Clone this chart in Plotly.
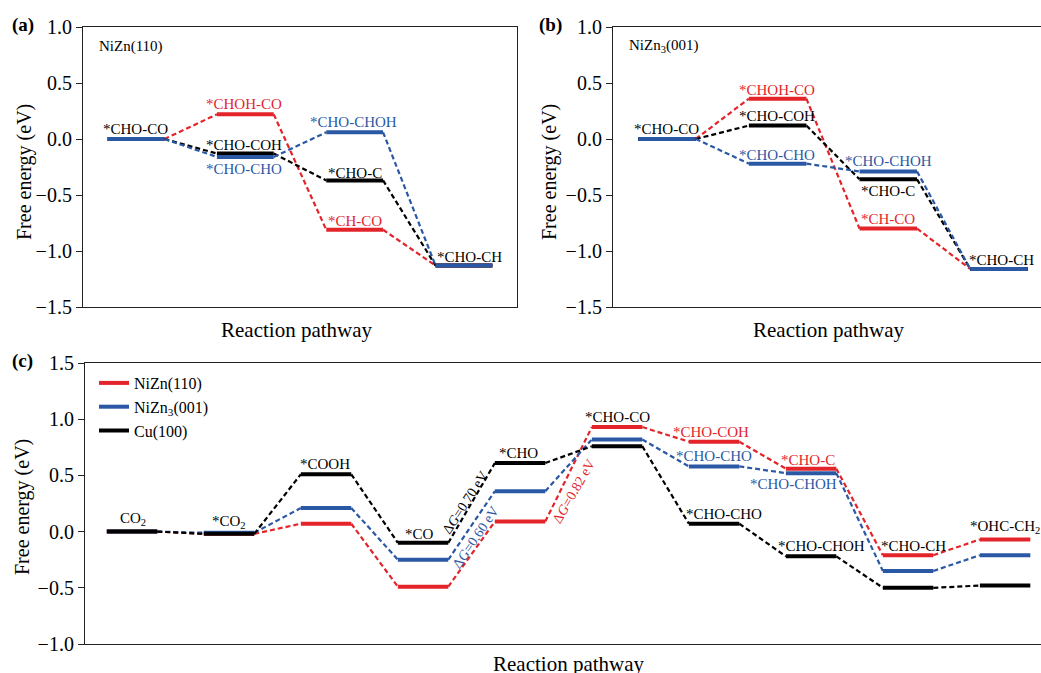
import plotly.graph_objects as go

# ---------------- data ----------------
# Panel (a) NiZn(110)
a_red = [0.00, 0.22, -0.81, -1.13]
a_black = [0.00, -0.13, -0.37, -1.13]
a_blue = [0.00, -0.16, 0.06, -1.13]
a_names_red = ["*CHO-CO", "*CHOH-CO", "*CH-CO", "*CHO-CH"]
a_names_black = ["*CHO-CO", "*CHO-COH", "*CHO-C", "*CHO-CH"]
a_names_blue = ["*CHO-CO", "*CHO-CHO", "*CHO-CHOH", "*CHO-CH"]

# Panel (b) NiZn3(001)
b_red = [0.00, 0.36, -0.80, -1.16]
b_black = [0.00, 0.12, -0.36, -1.16]
b_blue = [0.00, -0.22, -0.29, -1.16]
b_names_red = ["*CHO-CO", "*CHOH-CO", "*CH-CO", "*CHO-CH"]
b_names_black = ["*CHO-CO", "*CHO-COH", "*CHO-C", "*CHO-CH"]
b_names_blue = ["*CHO-CO", "*CHO-CHO", "*CHO-CHOH", "*CHO-CH"]

# Panel (c) full pathway
c_series = ["NiZn(110)", "NiZn<sub>3</sub>(001)", "Cu(100)"]
c_nizn = [0.00, -0.02, 0.07, -0.49, 0.09, 0.93, 0.80, 0.56, -0.21, -0.07]
c_nizn3 = [0.00, -0.01, 0.21, -0.25, 0.36, 0.82, 0.58, 0.52, -0.35, -0.21]
c_cu = [0.00, -0.02, 0.51, -0.10, 0.61, 0.76, 0.07, -0.22, -0.50, -0.48]
c_names_common = ["CO<sub>2</sub>", "*CO<sub>2</sub>", "*COOH", "*CO", "*CHO", "*CHO-CO"]
c_names_nizn = ["*CHO-COH", "*CHO-C", "*CHO-CH", "*OHC-CH<sub>2</sub>"]
c_names_nizn3 = ["*CHO-CHO", "*CHO-CHOH"]
c_names_cu = ["*CHO-CHO", "*CHO-CHOH"]
c_dg_labels = ["Δ<i>G</i>=0.82 eV", "Δ<i>G</i>=0.60 eV", "Δ<i>G</i>=0.70 eV"]

yticks_ab = [-1.5, -1.0, -0.5, 0.0, 0.5, 1.0]
yticks_c = [-1.0, -0.5, 0.0, 0.5, 1.0, 1.5]

# ---------------- style ----------------
RED = "#e3252b"
BLUE = "#2b58a4"
BLACK = "#000000"
FONT = "Liberation Serif, Times New Roman, Times, serif"
HW = 0.26
W, H = 1041, 673
DASH = "5px,3px"


def steps(vals):
    xs, ys = [], []
    for i, v in enumerate(vals):
        xs += [i - HW, i + HW, None]
        ys += [v, v, None]
    return xs, ys


def links(vals):
    xs, ys = [], []
    for i in range(len(vals) - 1):
        xs += [i + HW, i + 1 - HW, None]
        ys += [vals[i], vals[i + 1], None]
    return xs, ys


fig = go.Figure()


def add_series(vals, color, xa, ya, name=None, legend=False):
    lx, ly = links(vals)
    fig.add_trace(go.Scatter(x=lx, y=ly, mode="lines", xaxis=xa, yaxis=ya,
                             line=dict(color=color, width=2.2, dash=DASH),
                             showlegend=False, hoverinfo="skip"))
    sx, sy = steps(vals)
    fig.add_trace(go.Scatter(x=sx, y=sy, mode="lines", xaxis=xa, yaxis=ya,
                             line=dict(color=color, width=4),
                             name=name, showlegend=legend))


# panel a: red, black, blue (blue on top)
add_series(a_red, RED, "x", "y")
add_series(a_black, BLACK, "x", "y")
add_series(a_blue, BLUE, "x", "y")
# panel b
add_series(b_red, RED, "x2", "y2")
add_series(b_black, BLACK, "x2", "y2")
add_series(b_blue, BLUE, "x2", "y2")
# panel c
add_series(c_nizn, RED, "x3", "y3", c_series[0], True)
add_series(c_nizn3, BLUE, "x3", "y3", c_series[1], True)
add_series(c_cu, BLACK, "x3", "y3", c_series[2], True)

ann = []


def lab(xref, yref, x, y, text, color, dy=0, dx=0, size=15, angle=0, xanchor="center"):
    ann.append(dict(x=x, y=y, xref=xref, yref=yref, text=text, showarrow=False,
                    font=dict(family=FONT, size=size, color=color),
                    xanchor=xanchor, yanchor="middle", yshift=dy, xshift=dx,
                    textangle=angle))


# panel a labels
lab("x", "y", 0, a_blue[0], a_names_blue[0], BLACK, 10, -1)
lab("x", "y", 1, a_red[1], a_names_red[1], RED, 10, -1)
lab("x", "y", 1, a_black[1], a_names_black[1], BLACK, 9, -1)
lab("x", "y", 1, a_blue[1], a_names_blue[1], BLUE, -12, -1)
lab("x", "y", 2, a_blue[2], a_names_blue[2], BLUE, 10, -1)
lab("x", "y", 2, a_black[2], a_names_black[2], BLACK, 7, 0)
lab("x", "y", 2, a_red[2], a_names_red[2], RED, 9, 0)
lab("x", "y", 3, a_blue[3], a_names_blue[3], BLACK, 9, 6)
# panel b labels
lab("x2", "y2", 0, b_blue[0], b_names_blue[0], BLACK, 10, -1)
lab("x2", "y2", 1, b_red[1], b_names_red[1], RED, 9, -1)
lab("x2", "y2", 1, b_black[1], b_names_black[1], BLACK, 10, -1)
lab("x2", "y2", 1, b_blue[1], b_names_blue[1], BLUE, 9, -1)
lab("x2", "y2", 2, b_blue[2], b_names_blue[2], BLUE, 10, 0)
lab("x2", "y2", 2, b_black[2], b_names_black[2], BLACK, -12, 0)
lab("x2", "y2", 2, b_red[2], b_names_red[2], RED, 10, 0)
lab("x2", "y2", 3, b_blue[3], b_names_blue[3], BLACK, 9, 3)
# panel c labels
lab("x3", "y3", 0, c_cu[0], c_names_common[0], BLACK, 13, 1)
lab("x3", "y3", 1, c_cu[1], c_names_common[1], BLACK, 12, 0)
lab("x3", "y3", 2, c_cu[2], c_names_common[2], BLACK, 10, -1)
lab("x3", "y3", 3, c_cu[3], c_names_common[3], BLACK, 9, -4)
lab("x3", "y3", 4, c_cu[4], c_names_common[4], BLACK, 10, -2)
lab("x3", "y3", 5, c_nizn[5], c_names_common[5], BLACK, 10, 0)
lab("x3", "y3", 6, c_nizn[6], c_names_nizn[0], RED, 10, -3)
lab("x3", "y3", 6, c_nizn3[6], c_names_nizn3[0], BLUE, 10, 0)
lab("x3", "y3", 6, c_cu[6], c_names_cu[0], BLACK, 10, 10)
lab("x3", "y3", 7, c_nizn[7], c_names_nizn[1], RED, 9, -3)
lab("x3", "y3", 7, c_nizn3[7], c_names_nizn3[1], BLUE, -11, -18)
lab("x3", "y3", 7, c_cu[7], c_names_cu[1], BLACK, 10, 10)
lab("x3", "y3", 8, c_nizn[8], c_names_nizn[2], BLACK, 9, 5)
lab("x3", "y3", 9, c_nizn[9], c_names_nizn[3], BLACK, 12, -37, xanchor="left")
# delta G labels (rotated, along the dashed connectors)
lab("x3", "y3", 3.5, (c_cu[3] + c_cu[4]) / 2, c_dg_labels[2], BLACK, 0, -6, 14, -57)
lab("x3", "y3", 3.5, (c_nizn3[3] + c_nizn3[4]) / 2, c_dg_labels[1], BLUE, -12, 4, 14, -56)
lab("x3", "y3", 4.5, (c_nizn[4] + c_nizn[5]) / 2, c_dg_labels[0], RED, -17, 5, 14, -60)


def paper(text, px, py, size, bold=False, angle=0, xanchor="center"):
    ann.append(dict(x=px / W, y=1 - py / H, xref="paper", yref="paper",
                    text=f"<b>{text}</b>" if bold else text, showarrow=False,
                    font=dict(family=FONT, size=size, color=BLACK),
                    xanchor=xanchor, yanchor="middle", textangle=angle))


paper("(a)", 23, 25, 19, bold=True)
paper("(b)", 550, 25, 19, bold=True)
paper("(c)", 22, 361, 19, bold=True)
paper("NiZn(110)", 97, 47, 15, xanchor="left")
paper("NiZn<sub>3</sub>(001)", 627, 46, 15, xanchor="left")
paper("Free energy (eV)", 24, 172, 20, angle=-90)
paper("Free energy (eV)", 549, 172, 20, angle=-90)
paper("Free energy (eV)", 22, 507, 20, angle=-90)
paper("Reaction pathway", 297, 330, 21)
paper("Reaction pathway", 829, 330, 21)
paper("Reaction pathway", 569, 664, 21)

axis_common = dict(showline=True, linecolor="#222", linewidth=1.2, mirror=True,
                   showgrid=False, zeroline=False)
xcommon = dict(axis_common, showticklabels=False, ticks="")
ycommon = dict(axis_common, ticks="outside", ticklen=6, tickwidth=1.2, tickcolor="#222",
               tickformat=".1f", tickfont=dict(family=FONT, size=20, color=BLACK))

fig.update_layout(
    width=W, height=H, autosize=False,
    margin=dict(l=0, r=0, t=0, b=0, autoexpand=False),
    font=dict(family=FONT),
    plot_bgcolor="white", paper_bgcolor="white",
    xaxis=dict(xcommon, domain=[83 / W, 517 / W], range=[-0.485, 3.485], anchor="y"),
    yaxis=dict(ycommon, domain=[1 - 307 / H, 1 - 27 / H], range=[-1.5, 1.0],
               tickvals=yticks_ab, anchor="x"),
    xaxis2=dict(xcommon, domain=[613 / W, 1.0], range=[-0.488, 3.38], anchor="y2"),
    yaxis2=dict(ycommon, domain=[1 - 307 / H, 1 - 27 / H], range=[-1.5, 1.0],
                tickvals=yticks_ab, anchor="x2"),
    xaxis3=dict(xcommon, domain=[85 / W, 1.0], range=[-0.485, 9.37], anchor="y3"),
    yaxis3=dict(ycommon, domain=[1 - 644 / H, 1 - 363 / H], range=[-1.0, 1.5],
                tickvals=yticks_c, anchor="x3"),
    legend=dict(x=94 / W, y=1 - 366 / H, xanchor="left", yanchor="top",
                font=dict(family=FONT, size=16, color=BLACK),
                bgcolor="rgba(0,0,0,0)", tracegroupgap=0),
    annotations=ann,
    showlegend=True,
)

fig.write_html(
    "out.html",
    config={"displayModeBar": False},
    post_script="document.body.style.margin='0';document.body.style.overflow='hidden';",
)
